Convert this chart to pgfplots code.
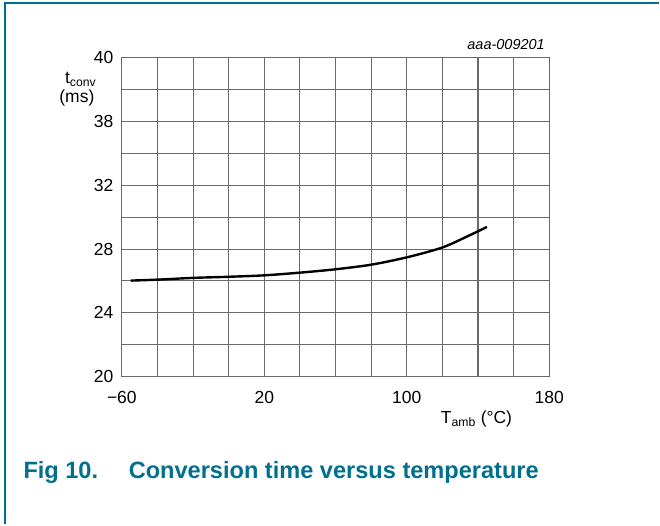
\documentclass[border=0pt]{standalone}
\usepackage{fontspec}
\setmainfont{Liberation Sans}
\usepackage{pgfplots}
\pgfplotsset{compat=1.18}
\definecolor{nxpteal}{RGB}{0,112,140}
\definecolor{gridgray}{RGB}{105,105,105}
\begin{document}
\begin{tikzpicture}[x=1pt,y=1pt]
\path (0,0) rectangle (660,525);
\draw[nxpteal, line width=1.8pt] (5,0) -- (5,522) -- (660,522);
\begin{axis}[
  at={(122pt,148pt)}, anchor=south west,
  scale only axis, width=428pt, height=319pt,
  xmin=-60, xmax=180, ymin=20, ymax=40,
  xtick={-60,-40,...,180}, xticklabels={−60,,,,20,,,,100,,,,180},
  ytick={20,22,...,40}, yticklabels={20,,24,,28,,32,,38,,40},
  grid=major,
  major grid style={gridgray, line width=1.1pt},
  axis line style={gridgray, line width=1.1pt},
  major tick length=0pt,
  tick label style={font=\fontsize{17.5}{20}\selectfont},
  xticklabel style={yshift=-11pt},
  yticklabel style={xshift=-5pt},
  clip=false,
]
\addplot[black, line width=2.4pt, smooth, tension=0.5] coordinates {
(-55,26.02) (-40,26.08) (-20,26.19) (0,26.26) (20,26.35) (40,26.52) (60,26.73) (80,27.02) (100,27.48) (120,28.1) (135,28.85) (145,29.39)
};
\end{axis}
\node[anchor=base east, font=\fontsize{17.5}{20}\selectfont] at (100,525-84) {t\textsubscript{conv}};
\node[anchor=base east, font=\fontsize{17.5}{20}\selectfont] at (98,525-103) {(ms)};
\node[anchor=base west, font=\fontsize{17.5}{20}\selectfont] at (438,525-424) {T\textsubscript{amb} (°C)};
\node[anchor=base east, font=\fontsize{14.5}{17}\itshape] at (549,525-50) {aaa-009201};
\node[anchor=base west, font=\fontsize{23.6}{27}\bfseries, text=nxpteal] at (20,525-479) {Fig 10.\hspace{1.3em}Conversion time versus temperature};
\end{tikzpicture}
\end{document}
